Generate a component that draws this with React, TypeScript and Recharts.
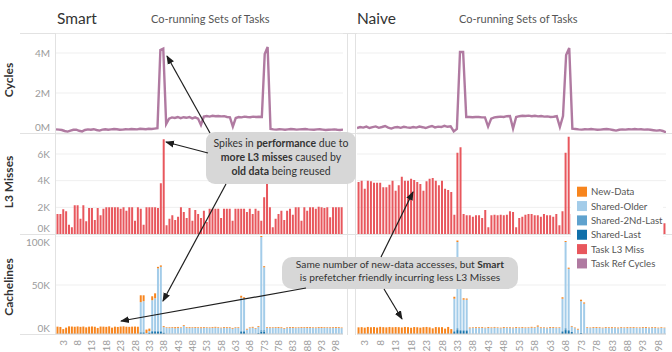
import React from 'react';
import { ComposedChart, Bar, Line, XAxis, YAxis, CartesianGrid } from 'recharts';

const FONT = 'Lato, "Open Sans", "DejaVu Sans", sans-serif';

// Co-running task sets, numbered 1..100 on the x axis
const categories: string[] = Array.from({ length: 100 }, (_, i) => String(i + 1));
const xTickLabels = ['3', '8', '13', '18', '23', '28', '33', '38', '43', '48', '53', '58', '63', '68', '73', '78', '83', '88', '93', '98'];
const cycleTicks = [0, 2, 4]; // millions
const l3Ticks = [0, 2, 4, 6]; // thousands
const cachelineTicks = [0, 50, 100]; // thousands

// Task reference cycles (millions)
const smartCycles = [
  0.18, 0.17, 0.15, 0.10, 0.07, 0.12, 0.16, 0.17, 0.11, 0.08,
  0.15, 0.18, 0.16, 0.19, 0.15, 0.12, 0.17, 0.19, 0.16, 0.18,
  0.20, 0.19, 0.16, 0.17, 0.19, 0.18, 0.20, 0.19, 0.18, 0.21,
  0.20, 0.19, 0.21, 0.20, 0.22, 0.24, 4.15, 4.22, 0.45, 0.72,
  0.78, 0.75, 0.80, 0.74, 0.79, 0.76, 0.80, 0.73, 0.78, 0.72,
  0.40, 0.82, 0.85, 0.82, 0.86, 0.84, 0.85, 0.83, 0.84, 0.80,
  0.78, 0.32, 0.75, 0.80, 0.78, 0.82, 0.80, 0.79, 0.82, 0.80,
  0.81, 0.80, 3.95, 4.30, 0.20, 0.18, 0.17, 0.19, 0.18, 0.16,
  0.18, 0.20, 0.19, 0.17, 0.18, 0.19, 0.20, 0.18, 0.17, 0.16,
  0.18, 0.19, 0.17, 0.15, 0.16, 0.17, 0.18, 0.16, 0.15, 0.17,
];
const naiveCycles = [
  0.25, 0.30, 0.27, 0.32, 0.25, 0.29, 0.33, 0.26, 0.30, 0.35,
  0.27, 0.22, 0.28, 0.30, 0.26, 0.31, 0.28, 0.26, 0.30, 0.27,
  0.32, 0.29, 0.25, 0.31, 0.35, 0.28, 0.32, 0.30, 0.36, 0.31,
  0.33, 0.08, 0.20, 4.05, 4.05, 0.80, 0.80, 0.79, 0.80, 0.80,
  0.78, 0.78, 0.32, 0.72, 0.78, 0.80, 0.82, 0.80, 0.84, 0.85,
  0.22, 0.80, 0.84, 0.86, 0.85, 0.87, 0.84, 0.86, 0.83, 0.85,
  0.82, 0.83, 0.80, 0.81, 0.84, 0.30, 0.85, 3.90, 4.25, 0.22,
  0.20, 0.18, 0.17, 0.19, 0.18, 0.20, 0.18, 0.16, 0.17, 0.19,
  0.20, 0.18, 0.15, 0.12, 0.16, 0.18, 0.17, 0.19, 0.18, 0.20,
  0.18, 0.19, 0.17, 0.18, 0.16, 0.14, 0.12, 0.14, 0.10, 0.03,
];

// Task L3 misses (thousands)
const smartL3 = [
  1.5, 1.5, 1.85, 1.7, 0.7, 0.5, 2.15, 2.15, 1.15, 2.15,
  0.95, 1.95, 1.95, 1.05, 1.95, 1.4, 1.9, 2.0, 2.0, 2.0,
  2.0, 2.0, 1.9, 2.0, 1.75, 2.0, 2.0, 1.0, 2.0, 1.9,
  0.7, 2.0, 2.0, 2.0, 2.0, 1.95, 3.8, 7.1, 0.65, 1.15,
  1.4, 1.05, 1.3, 2.0, 1.65, 1.2, 1.95, 1.0, 1.8, 1.5,
  1.2, 1.75, 0.9, 1.9, 1.9, 1.9, 1.9, 1.2, 1.9, 1.9,
  1.9, 1.0, 1.9, 1.9, 1.9, 1.9, 1.65, 1.9, 1.5, 1.9,
  1.75, 1.0, 2.75, 5.0, 2.0, 0.5, 1.15, 1.5, 1.75, 1.05,
  1.75, 1.9, 1.45, 2.0, 2.0, 1.0, 2.0, 1.75, 2.0, 2.0,
  1.9, 2.05, 2.0, 1.95, 2.0, 1.25, 2.0, 2.0, 2.0, 2.0,
];
const naiveL3 = [
  3.9, 4.0, 3.4, 4.0, 3.95, 3.85, 3.85, 3.85, 3.5, 3.5,
  3.7, 4.0, 3.25, 3.65, 4.3, 4.0, 4.0, 4.15, 4.05, 3.9,
  3.75, 3.25, 3.95, 4.15, 4.2, 4.0, 3.65, 4.0, 3.4, 3.3,
  3.15, 1.45, 6.1, 6.5, 1.5, 1.4, 1.4, 1.3, 1.4, 1.4,
  1.2, 1.8, 0.5, 1.4, 1.45, 1.4, 1.45, 1.4, 1.45, 1.7,
  1.65, 0.5, 1.2, 1.3, 1.45, 1.5, 1.5, 1.4, 1.4, 1.3,
  1.5, 1.4, 1.4, 1.3, 1.5, 0.65, 1.7, 6.1, 7.3, 1.5,
  1.4, 1.6, 1.3, 1.5, 1.4, 1.6, 1.5, 1.3, 1.5, 1.4,
  1.6, 1.5, 1.4, 1.5, 1.3, 1.6, 1.5, 1.4, 1.5, 1.6,
  1.4, 1.5, 1.3, 1.5, 1.4, 1.6, 1.5, 1.4, 1.2, 0.8,
];

// Cachelines by data age (thousands)
const smartNew = [
  7.5, 7.2, 5.0, 6.5, 7.8, 7.6, 7.4, 7.7, 7.3, 7.6,
  6.8, 7.5, 7.7, 7.4, 6.2, 7.6, 7.5, 7.3, 7.8, 6.5,
  7.5, 7.2, 7.6, 7.8, 7.4, 7.3, 7.5, 7.6, 7.4, 7.0,
  6.0, 3.5, 2.5, 4.0, 5.0, 1.5, 1.5, 1.0, 0.6, 0.8,
  0.7, 1.2, 0.9, 0.6, 0.8, 0.7, 0.9, 0.6, 0.8, 0.7,
  0.9, 0.8, 0.6, 0.7, 0.8, 0.9, 0.7, 0.6, 0.8, 0.9,
  0.7, 0.8, 0.6, 0.7, 2.0, 1.5, 0.8, 0.7, 0.9, 0.6,
  0.8, 1.0, 1.2, 0.7, 0.8, 0.6, 0.7, 0.9, 0.8, 0.7,
  0.6, 0.8, 0.9, 0.7, 0.6, 0.8, 0.7, 0.9, 0.8, 0.6,
  0.7, 0.8, 0.9, 0.7, 0.6, 0.8, 0.7, 0.9, 0.8, 0.6,
];
const smartOlder = [
  0, 0, 0, 0, 0, 0, 0, 0, 0, 0,
  0, 0, 0, 0, 0, 0, 0, 0, 0, 0,
  0, 0, 0, 0, 0, 0, 0, 0, 0, 30,
  31, 1.0, 1.5, 31, 33, 64, 65, 5.5, 6.2, 6.0,
  6.4, 5.8, 6.3, 6.1, 8.2, 6.2, 6.0, 6.4, 6.3, 6.1,
  5.9, 6.2, 6.3, 6.0, 6.2, 6.4, 6.1, 5.9, 6.3, 6.0,
  6.2, 5.4, 6.3, 6.1, 34, 33, 4.5, 6.0, 6.4, 5.5,
  6.2, 95, 64, 6.2, 6.0, 6.3, 6.4, 6.1, 6.0, 5.2,
  6.2, 6.3, 6.1, 6.0, 6.3, 6.2, 6.4, 6.1, 6.3, 6.2,
  6.0, 6.3, 6.1, 6.2, 6.4, 6.0, 6.3, 6.1, 6.2, 6.0,
];
const smartSecondLast = [
  0, 0, 0, 0, 0, 0, 0, 0, 0, 0,
  0, 0, 0, 0, 0, 0, 0, 0, 0, 0,
  0, 0, 0, 0, 0, 0, 0, 0, 0, 1.0,
  1.0, 0, 0, 1.5, 1.5, 1.0, 1.0, 0, 0, 0,
  0, 0, 0, 0, 0, 0, 0, 0, 0, 0,
  0, 0, 0, 0, 0, 0, 0, 0, 0, 0,
  0, 0, 0, 0, 1.0, 1.0, 0, 0, 0, 0,
  0, 1.5, 1.5, 0, 0, 0, 0, 0, 0, 0,
  0, 0, 0, 0, 0, 0, 0, 0, 0, 0,
  0, 0, 0, 0, 0, 0, 0, 0, 0, 0,
];
const smartLast = [
  0, 0, 0, 0, 0, 0, 0, 0, 0, 0,
  0, 0, 0, 0, 0, 0, 0, 0, 0, 0,
  0, 0, 0, 0, 0, 0, 0, 0, 0, 1.5,
  1.5, 0, 1.5, 2.0, 2.0, 2.0, 2.5, 1.5, 0, 0,
  0, 0, 0, 0, 0, 0, 0, 0, 0, 0,
  0, 0, 0, 0, 0, 0, 0, 0, 0, 0,
  0, 0, 0, 0, 2.0, 2.0, 0, 0, 0, 0,
  1.0, 2.5, 2.5, 0, 0, 0, 0, 0, 0, 0,
  0, 0, 0, 0, 0, 0, 0, 0, 0, 0,
  0, 0, 0, 0, 0, 0, 0, 0, 0, 0,
];
const naiveNew = [
  6.8, 7.0, 6.5, 7.2, 6.9, 7.1, 6.6, 7.3, 7.0, 6.8,
  7.2, 6.9, 7.1, 7.0, 6.7, 7.2, 7.0, 6.4, 7.1, 6.9,
  6.5, 7.0, 7.2, 6.8, 5.8, 7.1, 6.9, 7.0, 5.5, 7.2,
  5.0, 2.0, 1.5, 1.0, 1.5, 1.2, 0.8, 0.6, 0.9, 0.7,
  0.8, 0.6, 0.9, 0.7, 0.8, 0.6, 0.7, 0.9, 0.6, 0.8,
  0.7, 0.9, 0.6, 0.8, 0.7, 0.6, 0.9, 0.7, 1.2, 0.8,
  0.6, 0.7, 0.9, 0.8, 0.7, 0.6, 1.5, 1.0, 1.2, 0.7,
  0.6, 0.8, 1.5, 1.2, 0.7, 0.6, 0.8, 0.9, 0.7, 0.6,
  0.8, 0.7, 0.9, 0.6, 0.8, 0.7, 0.6, 0.9, 0.7, 0.8,
  0.6, 0.7, 0.8, 0.9, 0.6, 0.7, 0.8, 0.6, 0.7, 0.5,
];
const naiveOlder = [
  0, 0, 0, 0, 0, 0, 0, 0, 0, 0,
  0, 0, 0, 0, 0, 0, 0, 0, 0, 0,
  0, 0, 0, 0, 0, 0, 0, 0, 0, 0,
  0, 33, 88, 55, 31, 31, 5.8, 6.2, 6.0, 6.1,
  6.3, 5.9, 6.2, 6.0, 6.4, 6.1, 5.8, 6.2, 6.3, 6.0,
  5.9, 6.2, 6.1, 6.3, 6.0, 6.2, 6.4, 6.1, 7.5, 6.0,
  6.2, 5.8, 6.1, 6.3, 6.0, 6.2, 33, 88, 62, 5.5,
  6.0, 4.5, 32, 31, 6.2, 6.0, 6.3, 6.1, 6.2, 5.9,
  6.3, 6.1, 6.0, 6.2, 5.8, 6.4, 6.1, 6.0, 6.3, 6.2,
  6.1, 6.0, 6.3, 6.2, 6.0, 6.4, 6.1, 5.9, 6.2, 6.0,
];
const naiveSecondLast = [
  0, 0, 0, 0, 0, 0, 0, 0, 0, 0,
  0, 0, 0, 0, 0, 0, 0, 0, 0, 0,
  0, 0, 0, 0, 0, 0, 0, 0, 0, 0,
  0, 1.0, 2.0, 1.5, 1.0, 1.0, 0, 0, 0, 0,
  0, 0, 0, 0, 0, 0, 0, 0, 0, 0,
  0, 0, 0, 0, 0, 0, 0, 0, 0, 0,
  0, 0, 0, 0, 0, 0, 1.0, 2.0, 1.5, 0,
  0, 0, 0.5, 0, 0, 0, 0, 0, 0, 0,
  0, 0, 0, 0, 0, 0, 0, 0, 0, 0,
  0, 0, 0, 0, 0, 0, 0, 0, 0, 0,
];
const naiveLast = [
  0, 0, 0, 0, 0, 0, 0, 0, 0, 0,
  0, 0, 0, 0, 0, 0, 0, 0, 0, 0,
  0, 0, 0, 0, 0, 0, 0, 0, 0, 0,
  0, 2.0, 4.0, 3.0, 3.0, 3.0, 0, 0, 0, 0,
  0, 0, 0, 0, 0, 0, 0, 0, 0, 0,
  0, 0, 0, 0, 0, 0, 0, 0, 0, 0,
  0, 0, 0, 0, 0, 0, 2.0, 4.0, 3.0, 2.0,
  0, 0, 1.0, 0, 0, 0, 0, 0, 0, 0,
  0, 0, 0, 0, 0, 0, 0, 0, 0, 0,
  0, 0, 0, 0, 0, 0, 0, 0, 0, 0,
];

const legendItems = [
  { name: 'New-Data', color: '#f7851e' },
  { name: 'Shared-Older', color: '#a3cce9' },
  { name: 'Shared-2Nd-Last', color: '#5fa2ce' },
  { name: 'Shared-Last', color: '#1170aa' },
  { name: 'Task L3 Miss', color: '#e8575d' },
  { name: 'Task Ref Cycles', color: '#b07aa1' },
];
const COLOR_NEW = legendItems[0].color;
const COLOR_OLDER = legendItems[1].color;
const COLOR_SECOND = legendItems[2].color;
const COLOR_LAST = legendItems[3].color;
const COLOR_L3 = legendItems[4].color;
const COLOR_CYCLES = legendItems[5].color;

type Row = {
  cat: string; cycles: number; l3: number;
  newData: number; older: number; second: number; last: number;
};

function buildRows(cycles: number[], l3: number[], nw: number[], older: number[], second: number[], last: number[]): Row[] {
  return categories.map((cat, i) => ({
    cat, cycles: cycles[i], l3: l3[i], newData: nw[i], older: older[i], second: second[i], last: last[i],
  }));
}

const smartRows = buildRows(smartCycles, smartL3, smartNew, smartOlder, smartSecondLast, smartLast);
const naiveRows = buildRows(naiveCycles, naiveL3, naiveNew, naiveOlder, naiveSecondLast, naiveLast);

const TICK_GRAY = '#9b9b9b';
const GRID = '#efefef';
const BORDER = '#e2e2e2';

const makeYTick = (fmt: (v: number) => string, top: number) => (props: any) => {
  const { x, y, payload } = props;
  const v = payload.value;
  const dy = v === 0 ? -2 : v === top ? 10.3 : 3.6;
  return (
    <text x={x} y={y} dy={dy} textAnchor="end" fill={TICK_GRAY} fontSize={10} fontFamily={FONT}>
      {fmt(v)}
    </text>
  );
};

const XTick = (props: any) => {
  const { x, y, payload } = props;
  const label = String(payload.value);
  if (!xTickLabels.includes(label)) return <g />;
  return (
    <text transform={`translate(${x + 3.6},${y + 4}) rotate(-90)`} textAnchor="end" fill={TICK_GRAY} fontSize={10} fontFamily={FONT}>
      {label}
    </text>
  );
};

const ROW_CYCLES = 33;
const ROW_L3 = 134;
const ROW_CACHE = 236;
const Y_AXIS_W = 56;

function Panel({ rows, left, width, showAxis }: { rows: Row[]; left: number; width: number; showAxis: boolean }) {
  const yProps = {
    hide: !showAxis,
    width: Y_AXIS_W,
    axisLine: false,
    tickLine: false,
    tickSize: 0,
    tickMargin: 6,
    interval: 0 as const,
    allowDataOverflow: true,
  };
  const margin = { top: 0, right: 0, bottom: 0, left: 0 };
  return (
    <>
      <div style={{ position: 'absolute', left, top: ROW_CYCLES }}>
        <ComposedChart width={width} height={100} data={rows} margin={margin}>
          <CartesianGrid vertical={false} stroke={GRID} />
          <XAxis dataKey="cat" hide />
          <YAxis {...yProps} domain={[0, 5]} ticks={cycleTicks} tick={makeYTick((v) => `${v}M`, 5)} />
          <Line type="linear" dataKey="cycles" stroke={COLOR_CYCLES} strokeWidth={2.4} dot={false} isAnimationActive={false} />
        </ComposedChart>
      </div>
      <div style={{ position: 'absolute', left, top: ROW_L3 }}>
        <ComposedChart width={width} height={100} data={rows} margin={margin} barCategoryGap="18%">
          <CartesianGrid vertical={false} stroke={GRID} />
          <XAxis dataKey="cat" hide />
          <YAxis {...yProps} domain={[0, 7.5]} ticks={l3Ticks} tick={makeYTick((v) => `${v}K`, 7.5)} />
          <Bar dataKey="l3" fill={COLOR_L3} isAnimationActive={false} />
        </ComposedChart>
      </div>
      <div style={{ position: 'absolute', left, top: ROW_CACHE }}>
        <ComposedChart width={width} height={116} data={rows} margin={margin} barCategoryGap="18%">
          <CartesianGrid vertical={false} stroke={GRID} />
          <XAxis dataKey="cat" height={18} interval={0} tickLine={false} tickSize={0} tickMargin={2} axisLine={{ stroke: '#cfcfcf' }} tick={XTick} />
          <YAxis {...yProps} domain={[0, 100]} ticks={cachelineTicks} tick={makeYTick((v) => `${v}K`, 100)} />
          <Bar dataKey="last" stackId="c" fill={COLOR_LAST} isAnimationActive={false} />
          <Bar dataKey="second" stackId="c" fill={COLOR_SECOND} isAnimationActive={false} />
          <Bar dataKey="older" stackId="c" fill={COLOR_OLDER} isAnimationActive={false} />
          <Bar dataKey="newData" stackId="c" fill={COLOR_NEW} isAnimationActive={false} />
        </ComposedChart>
      </div>
    </>
  );
}

function Arrow({ x1, y1, x2, y2 }: { x1: number; y1: number; x2: number; y2: number }) {
  return <line x1={x1} y1={y1} x2={x2} y2={y2} stroke="#1e1e1e" strokeWidth={1.2} markerEnd="url(#arrowHead)" />;
}

export default function App() {
  const textStyle = { fontFamily: FONT };
  return (
    <div style={{ position: 'absolute', left: 0, top: 0, width: 672, height: 352, background: '#fff', overflow: 'hidden' }}>
      {/* pane borders, headers and axis titles */}
      <svg width={672} height={352} style={{ position: 'absolute', left: 0, top: 0 }}>
        <line x1={20} x2={672} y1={33.5} y2={33.5} stroke={BORDER} />
        <line x1={20} x2={672} y1={133.5} y2={133.5} stroke={BORDER} />
        <line x1={20} x2={672} y1={234.5} y2={234.5} stroke={BORDER} />
        <line x1={20} x2={56} y1={334.5} y2={334.5} stroke={BORDER} />
        <line x1={55.5} x2={55.5} y1={33} y2={335} stroke={BORDER} />
        <line x1={347.5} x2={347.5} y1={33} y2={335} stroke={BORDER} />
        <line x1={355.5} x2={355.5} y1={33} y2={335} stroke={BORDER} />
        <text x={57} y={23.5} fontSize={15.5} fill="#333" style={textStyle}>Smart</text>
        <text x={151} y={22.5} fontSize={11} fill="#555" style={textStyle}>Co-running Sets of Tasks</text>
        <text x={357} y={23.5} fontSize={15.5} fill="#333" style={textStyle}>Naive</text>
        <text x={459} y={22.5} fontSize={11} fill="#555" style={textStyle}>Co-running Sets of Tasks</text>
        <text transform="translate(13,80) rotate(-90)" textAnchor="middle" fontSize={12} fontWeight="bold" fill="#333" style={textStyle}>Cycles</text>
        <text transform="translate(13,182) rotate(-90)" textAnchor="middle" fontSize={12} fontWeight="bold" fill="#333" style={textStyle}>L3 Misses</text>
        <text transform="translate(13,287) rotate(-90)" textAnchor="middle" fontSize={12} fontWeight="bold" fill="#333" style={textStyle}>Cachelines</text>
      </svg>

      <Panel rows={smartRows} left={0} width={343} showAxis />
      <Panel rows={naiveRows} left={357} width={309} showAxis={false} />

      {/* legend and annotations */}
      <svg width={672} height={352} style={{ position: 'absolute', left: 0, top: 0, pointerEvents: 'none' }}>
        <defs>
          <marker id="arrowHead" markerWidth={9} markerHeight={8} refX={8} refY={4} orient="auto" markerUnits="userSpaceOnUse">
            <path d="M0,0.5 L9,4 L0,7.5 Z" fill="#1e1e1e" />
          </marker>
        </defs>

        <rect x={571} y={183} width={92} height={88} fill="#fff" />
        {legendItems.map((item, i) => (
          <g key={item.name}>
            <rect x={577} y={186.7 + i * 14.35} width={10} height={10} fill={item.color} />
            <text x={591} y={195.3 + i * 14.35} fontSize={9.6} fill="#555" style={textStyle}>{item.name}</text>
          </g>
        ))}

        <rect x={206} y={132} width={150} height={52} rx={9} fill="#d7d7d7" />
        <text x={281} y={146.8} textAnchor="middle" fontSize={10.5} fill="#333" style={textStyle}>
          Spikes in <tspan fontWeight="bold">performance</tspan> due to
        </text>
        <text x={281} y={160.8} textAnchor="middle" fontSize={10.5} fill="#333" style={textStyle}>
          <tspan fontWeight="bold">more L3 misses</tspan> caused by
        </text>
        <text x={281} y={174.8} textAnchor="middle" fontSize={10.5} fill="#333" style={textStyle}>
          <tspan fontWeight="bold">old data</tspan> being reused
        </text>

        <rect x={282} y={257} width={236} height={32} rx={10} fill="#d7d7d7" />
        <text x={400} y={268.3} textAnchor="middle" fontSize={10.2} fill="#333" style={textStyle}>
          Same number of new-data accesses, but <tspan fontWeight="bold">Smart</tspan>
        </text>
        <text x={400} y={280.8} textAnchor="middle" fontSize={10.2} fill="#333" style={textStyle}>
          is prefetcher friendly incurring less L3 Misses
        </text>

        <Arrow x1={210} y1={133} x2={167} y2={56} />
        <Arrow x1={208} y1={153} x2={166} y2={142} />
        <Arrow x1={226} y1={184} x2={163} y2={301} />
        <Arrow x1={306} y1={288} x2={121} y2={321} />
        <Arrow x1={384} y1={289} x2={402} y2={319} />
        <Arrow x1={381} y1={257} x2={413} y2={192} />
      </svg>
    </div>
  );
}
